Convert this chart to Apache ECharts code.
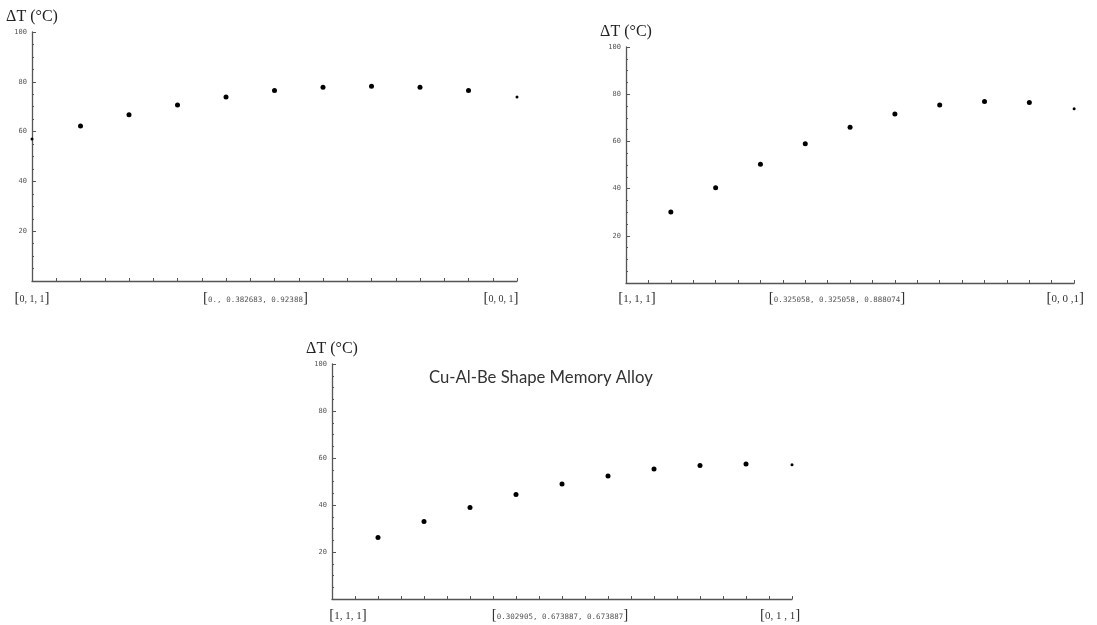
<!DOCTYPE html>
<html>
<head>
<meta charset="utf-8">
<script src="https://cdn.jsdelivr.net/npm/echarts@6/dist/echarts.min.js"></script>
<style>html,body{margin:0;padding:0;background:#fff}#c{width:1097px;height:625px}</style>
</head>
<body>
<div id="c"></div>
<script>
// ---- data ----
const positions = [0, 1, 2, 3, 4, 5, 6, 7, 8, 9, 10];
const topLeftValues  = [57.0, 62.2, 66.8, 70.7, 73.9, 76.5, 77.8, 78.2, 77.8, 76.5, 73.9];
const topRightValues = [null, 30.1, 40.4, 50.3, 59.0, 66.0, 71.6, 75.4, 76.9, 76.5, 73.8];
const bottomValues   = [null, 26.2, 33.0, 38.9, 44.5, 48.9, 52.3, 55.3, 56.8, 57.5, 57.1];
const topLeftTicks  = ['0, 1, 1', '0., 0.382683, 0.92388', '0, 0, 1'];
const topRightTicks = ['1, 1, 1', '0.325058, 0.325058, 0.888074', '0, 0 ,1'];
const bottomTicks   = ['1, 1, 1', '0.302905, 0.673887, 0.673887', '0, 1 , 1'];
const yTicks = [20, 40, 60, 80, 100];
const yName = 'ΔT (°C)';
const chartTitle = 'Cu-Al-Be Shape Memory Alloy';

// ---- layout ----
const grids = [
  {left: 32, top: 32, width: 485, height: 249},
  {left: 626, top: 47, width: 460, height: 236},
  {left: 332, top: 364, width: 460, height: 235}
];
const labelShifts = [[0, -19, -16], [11, -13, -9], [16, -2, -12]];
const startSerif = [false, true, true];
const labelMargins = [10, 8, 9];

const axisColor = '#555';

function xAxisFor(i, ticks) {
  const sh = labelShifts[i];
  const rich = {
    b: {fontFamily: 'Liberation Serif', fontSize: 15, color: '#333'},
    n: {fontFamily: 'DejaVu Sans Mono', fontSize: 7.5, color: '#555', padding: [3, 0, 0, 0]},
    m: {fontFamily: 'Liberation Serif', fontSize: startSerif[i] ? 11 : 10, color: '#333', padding: [startSerif[i] ? 1 : 2, 0, 0, 0]}
  };
  sh.forEach((d, k) => {
    rich['s' + k] = {width: Math.abs(2 * d), fontSize: 8};
  });
  function wrap(k, txt, style) {
    const d = sh[k];
    const body = '{b|[}{' + style + '|' + txt + '}{b|]}';
    if (d > 0) return '{s' + k + '| }' + body;
    if (d < 0) return body + '{s' + k + '| }';
    return body;
  }
  return {
    type: 'value', gridIndex: i, min: 0, max: 10, interval: 0.5,
    axisLine: {lineStyle: {color: axisColor, width: 1.3}},
    axisTick: {inside: true, length: 3, lineStyle: {color: axisColor}},
    splitLine: {show: false},
    axisLabel: {
      margin: labelMargins[i],
      rich: rich,
      formatter: function (v) {
        if (v === 0) return wrap(0, ticks[0], 'm');
        if (v === 5) return wrap(1, ticks[1], 'n');
        if (v === 10) return wrap(2, ticks[2], 'm');
        return '';
      }
    }
  };
}

function yAxisFor(i) {
  return {
    type: 'value', gridIndex: i, min: 0, max: 100, interval: 20,
    name: yName, nameLocation: 'end', nameGap: 7,
    nameTextStyle: {fontFamily: 'Liberation Serif', fontSize: 16, color: '#222', align: 'center'},
    axisLine: {show: true, lineStyle: {color: axisColor, width: 1.3}},
    axisTick: {show: true, inside: true, length: 4, lineStyle: {color: axisColor}},
    minorTick: {show: true, splitNumber: 4, length: 2, lineStyle: {color: axisColor}},
    splitLine: {show: false},
    axisLabel: {
      fontFamily: 'DejaVu Sans Mono', fontSize: 7, color: '#555', margin: 5,
      formatter: v => (yTicks.indexOf(v) >= 0 ? String(v) : '')
    }
  };
}

function seriesFor(i, values) {
  return {
    type: 'scatter', xAxisIndex: i, yAxisIndex: i,
    symbol: 'circle',
    symbolSize: v => (v[0] === 0 || v[0] === 10 ? 3 : 5),
    itemStyle: {color: '#000', opacity: 1},
    data: positions.map((p, k) => [p, values[k]]).filter(d => d[1] !== null)
  };
}

const chart = echarts.init(document.getElementById('c'));
chart.setOption({
  animation: false,
  backgroundColor: '#fff',
  title: {
    text: chartTitle, left: 424, top: 364,
    textStyle: {fontFamily: 'Lato', fontSize: 16.7, fontWeight: 'normal', color: '#333'}
  },
  grid: grids,
  xAxis: [xAxisFor(0, topLeftTicks), xAxisFor(1, topRightTicks), xAxisFor(2, bottomTicks)],
  yAxis: [yAxisFor(0), yAxisFor(1), yAxisFor(2)],
  series: [seriesFor(0, topLeftValues), seriesFor(1, topRightValues), seriesFor(2, bottomValues)]
});
</script>
</body>
</html>
